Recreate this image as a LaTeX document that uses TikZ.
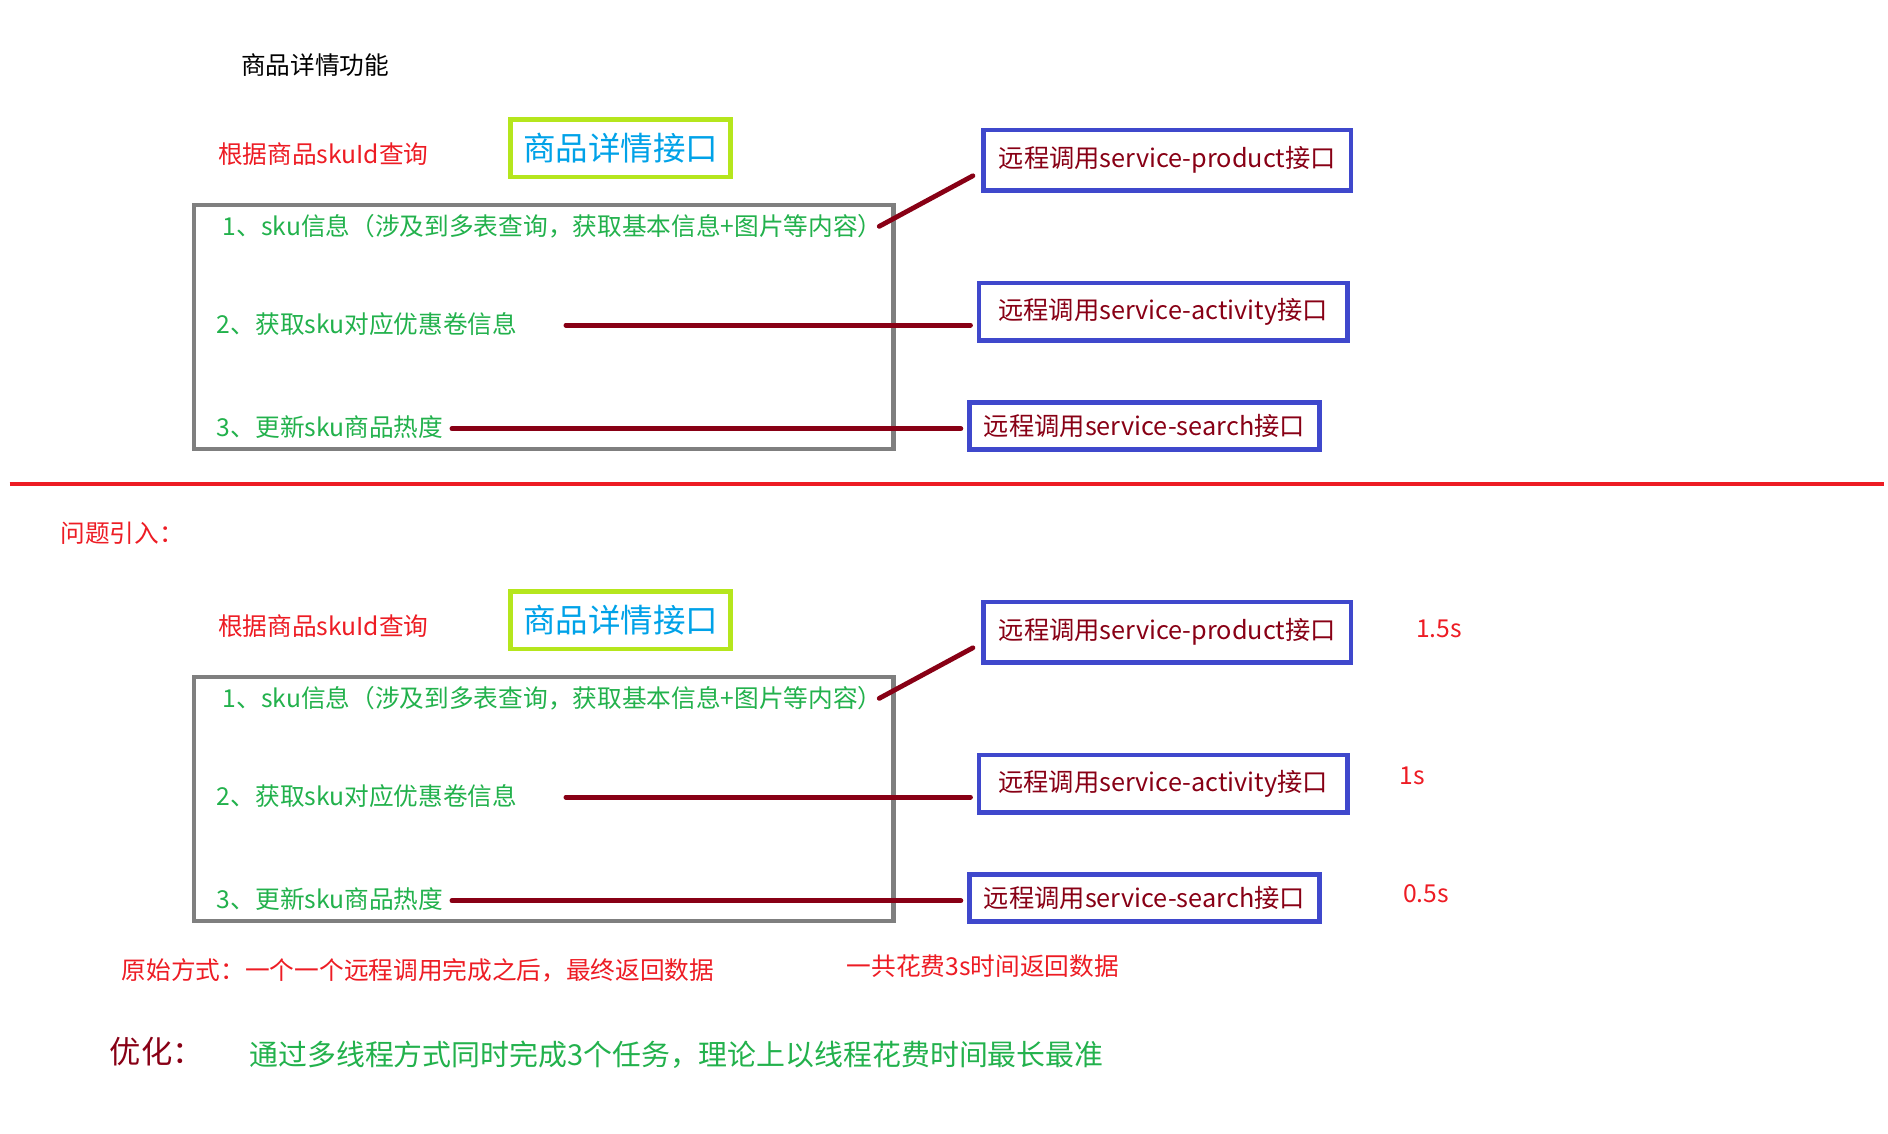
\documentclass[tikz,border=0pt]{standalone}
\usepackage{fontspec}
\setmainfont{Noto Sans CJK SC}
\usetikzlibrary{calc,positioning}
\definecolor{skugreen}{RGB}{34,177,76}
\definecolor{tipred}{RGB}{237,28,36}
\definecolor{linkred}{RGB}{136,0,21}
\definecolor{boxblue}{RGB}{63,72,204}
\definecolor{apilime}{RGB}{181,230,29}
\definecolor{apicyan}{RGB}{0,162,232}
\definecolor{panelgray}{RGB}{127,127,127}
\tikzset{
  txt/.style={anchor=west, inner sep=0pt, font=\fontsize{20.5}{24}\selectfont},
  item/.style={txt, text=skugreen},
  tip/.style={txt, text=tipred},
  remote/.style={draw=boxblue, line width=4pt, text=linkred, inner sep=0pt,
    font=\fontsize{21}{24}\selectfont},
  api/.style={draw=apilime, line width=4pt, text=apicyan, inner sep=0pt,
    minimum width=183pt, minimum height=48pt, font=\fontsize{27}{32}\selectfont},
  panel/.style={draw=panelgray, line width=3.5pt},
  link/.style={draw=linkred, line width=4pt, line cap=round},
}

\begin{document}
\begin{tikzpicture}[x=1pt,y=1pt]
\useasboundingbox (0,0) rectangle (1568,-941);
\node[txt] (title) at (200,-54) {商品详情功能};
% the same call chain, drawn twice
\foreach \dy/\s in {0/a,392/b}{
\begin{scope}[yshift=-\dy pt]
\node[tip] (query\s) at (181,-128) {根据商品skuId查询};
\node[api] (api\s) at (515.5,-123) {商品详情接口};
\draw[panel] (161,-170) rectangle (742,-373);
\node[item] (info\s) at (185,-188) {1、sku信息（涉及到多表查询，获取基本信息+图片等内容）};
\node[item] (coupon\s) at (180,-269) {2、获取sku对应优惠卷信息};
\node[item] (hot\s) at (180,-355) {3、更新sku商品热度};
\node[remote, minimum width=305pt, minimum height=50pt] (prod\s) at (969.5,-133) {远程调用service-product接口};
\node[remote, minimum width=306pt, minimum height=48pt] (act\s) at (966,-259) {远程调用service-activity接口};
\node[remote, minimum width=291pt, minimum height=39pt] (srch\s) at (950.5,-353.5) {远程调用service-search接口};
\coordinate (c2\s) at (470,-270);
\draw[link] ([xshift=-3pt]info\s.east) -- ($(prod\s.west)+(-7,-13)$);
\draw[link, shorten >=5pt] (c2\s) -- (c2\s -| act\s.west);
\draw[link, shorten >=5pt] ([xshift=7pt,yshift=-1pt]hot\s.east) -- ([yshift=-1pt]hot\s.east -| srch\s.west);
\end{scope}
}
\draw[tipred, line width=3pt] (8,-402) -- (1565,-402);
\node[tip] (issue) at (50,-443) {问题引入：};
\node[tip] (t1) at (1176,-522) {1.5s};
\node[tip] (t2) at (1162,-644) {1s};
\node[tip] (t3) at (1165,-742) {0.5s};
\node[tip] (serial) at (101,-806) {原始方式：一个一个远程调用完成之后，最终返回数据};
\node[tip] (total) at (703,-802) {一共花费3s时间返回数据};
\node[txt, text=linkred, font=\fontsize{26}{30}\selectfont] (opt) at (91,-873) {优化：};
\node[item, font=\fontsize{24}{30}\selectfont] (optnote) at (207,-876) {通过多线程方式同时完成3个任务，理论上以线程花费时间最长最准};
\end{tikzpicture}
\end{document}
